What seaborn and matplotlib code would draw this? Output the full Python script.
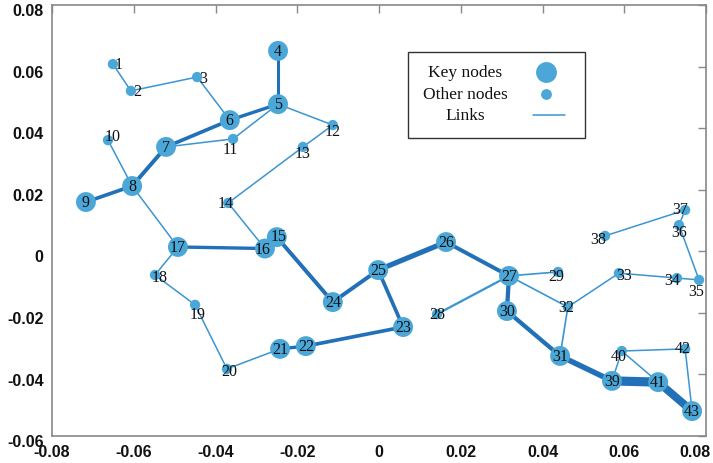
import matplotlib
matplotlib.use("Agg")
import matplotlib.pyplot as plt
from matplotlib.patches import Rectangle
from matplotlib.lines import Line2D
from matplotlib.transforms import ScaledTranslation
import numpy as np
import pandas as pd
import seaborn as sns

# ---- node coordinates ----
node_id = list(range(1, 44))
node_x = [-0.0651, -0.0607, -0.0445, -0.0247, -0.0247, -0.0365, -0.0521, -0.0604,
          -0.0717, -0.0663, -0.0357, -0.0113, -0.0186, -0.0369, -0.0250, -0.0279,
          -0.0492, -0.0548, -0.0450, -0.0372, -0.0242, -0.0179, 0.0059, -0.0113,
          -0.0002, 0.0164, 0.0318, 0.0142, 0.0438, 0.0313, 0.0443, 0.0462,
          0.0587, 0.0729, 0.0783, 0.0734, 0.0749, 0.0553, 0.0570, 0.0594,
          0.0683, 0.0749, 0.0766]
node_y = [0.0608, 0.0521, 0.0566, 0.0651, 0.0478, 0.0426, 0.0339, 0.0212,
          0.0160, 0.0361, 0.0365, 0.0410, 0.0339, 0.0157, 0.0046, 0.0009,
          0.0014, -0.0077, -0.0174, -0.0382, -0.0317, -0.0308, -0.0246, -0.0165,
          -0.0061, 0.0030, -0.0080, -0.0204, -0.0067, -0.0194, -0.0340, -0.0181,
          -0.0071, -0.0087, -0.0093, 0.0085, 0.0134, 0.0050, -0.0421, -0.0324,
          -0.0425, -0.0317, -0.0519]
key_nodes = [4, 5, 6, 7, 8, 9, 15, 16, 17, 21, 22, 23, 24, 25, 26, 27, 30, 31, 39, 41, 43]

# ---- links (source, target, strength) ----
link_src = [1, 2, 3, 4, 5, 5, 5, 6, 7, 7, 8, 8, 8, 12, 13, 14, 16, 15, 15, 17, 18, 19, 20,
            21, 22, 23, 24, 25, 26, 27, 27, 27, 27, 30, 31, 31, 32, 33, 34, 35, 36, 37,
            39, 39, 40, 40, 42, 41]
link_dst = [2, 3, 6, 5, 6, 12, 11, 7, 11, 8, 9, 10, 17, 13, 14, 16, 17, 16, 24, 18, 19, 20, 21,
            22, 23, 25, 25, 26, 27, 28, 29, 32, 30, 31, 32, 39, 33, 34, 35, 36, 37, 38,
            40, 41, 41, 42, 43, 43]
link_strength = [1, 1, 1, 2.0, 2.2, 1, 1, 2.4, 1, 2.6, 2.4, 1, 1, 1, 1, 1, 2.2, 2.0, 2.6, 1, 1, 1, 1,
                 2.2, 2.4, 2.4, 2.6, 3.4, 2.6, 1.5, 1.1, 1.1, 2.8, 2.8, 1.1, 3.6, 1, 1, 1, 1, 1, 1,
                 1, 6.0, 1, 1, 1, 5.2]

x_ticks = [-0.08, -0.06, -0.04, -0.02, 0, 0.02, 0.04, 0.06, 0.08]
x_tick_labels = ["-0.08", "-0.06", "-0.04", "-0.02", "0", "0.02", "0.04", "0.06", "0.08"]
y_ticks = [-0.06, -0.04, -0.02, 0, 0.02, 0.04, 0.06, 0.08]
y_tick_labels = ["-0.06", "-0.04", "-0.02", "0", "0.02", "0.04", "0.06", "0.08"]
legend_labels = ["Key nodes", "Other nodes", "Links"]

# ---- styling ----
NODE_COLOR = "#4aa7d7"
LINK_DARK = "#2271b8"
LINK_LIGHT = "#3b95d2"
SIZE_KEY = 205
SIZE_OTHER = 55
SERIF = ["Liberation Serif", "DejaVu Serif"]
TICK_FONT = ["Liberation Sans", "DejaVu Sans"]

# label offsets (points) for the small nodes whose numbers sit beside the dot
label_offset = {1: (4, 0), 2: (4.5, 0), 3: (4.5, -0.5), 10: (3.5, 3), 11: (-2, -7),
                12: (0, -4), 13: (0, -4.5), 14: (-1.5, 0), 18: (3.5, -1.5), 19: (1.5, -6.5),
                20: (1.5, -1.5), 29: (-1.5, -3), 32: (-1.5, 0), 33: (3.5, -1),
                34: (-3.5, -1.5), 35: (-2, -8), 36: (0, -5), 37: (-3.5, 0.5),
                38: (-5, -2), 40: (-2.5, -3.5), 42: (-1.5, 0.5), 16: (-2, -0.5),
                15: (1, 0.5)}

sns.set_theme(style="white")
plt.rcParams["font.family"] = SERIF

nodes = pd.DataFrame({"id": node_id, "x": node_x, "y": node_y})
nodes["role"] = np.where(nodes["id"].isin(key_nodes), "Key nodes", "Other nodes")
pos = nodes.set_index("id")[["x", "y"]]

fig = plt.figure(figsize=(7.13, 4.64), dpi=100)
ax = fig.add_axes([52 / 713, 1 - 437 / 464, (706 - 52) / 713, (437 - 6) / 464])

# links
for s, t, w in zip(link_src, link_dst, link_strength):
    ax.plot([pos.loc[s, "x"], pos.loc[t, "x"]], [pos.loc[s, "y"], pos.loc[t, "y"]],
            color=LINK_DARK if w >= 2 else LINK_LIGHT, lw=1.1 * w,
            solid_capstyle="butt", zorder=2)

# nodes
sns.scatterplot(data=nodes, x="x", y="y", size="role",
                sizes={"Key nodes": SIZE_KEY, "Other nodes": SIZE_OTHER},
                color=NODE_COLOR, linewidth=0, legend=False, ax=ax, zorder=3)

# node numbers
for nid, x, y in zip(node_id, node_x, node_y):
    dx, dy = label_offset.get(nid, (0, 0))
    ax.annotate(str(nid), (x, y), xytext=(dx, dy), textcoords="offset points",
                ha="center", va="center", fontsize=11.5, family=SERIF,
                color="#111111", zorder=4)

ax.set_xlim(-0.08, 0.08)
ax.set_ylim(-0.06, 0.08)
ax.set_xlabel("")
ax.set_ylabel("")
ax.set_xticks(x_ticks)
ax.set_xticklabels(x_tick_labels)
ax.set_yticks(y_ticks)
ax.set_yticklabels(y_tick_labels)
ax.tick_params(direction="in", length=5.5, width=1, color="#888888",
               top=True, right=True, labelsize=11.5, pad=6)
for lab in ax.get_xticklabels() + ax.get_yticklabels():
    lab.set_family(TICK_FONT)
    lab.set_fontweight("bold")
    lab.set_color("#111111")
# y labels sit slightly below their ticks
down = ScaledTranslation(0, -3 / 72, fig.dpi_scale_trans)
for lab in ax.get_yticklabels():
    lab.set_transform(lab.get_transform() + down)
# keep the last x label inside the figure
ax.get_xticklabels()[-1].set_horizontalalignment("right")
right_shift = ScaledTranslation(3 / 72, 0, fig.dpi_scale_trans)
ax.get_xticklabels()[-1].set_transform(ax.get_xticklabels()[-1].get_transform() + right_shift)
for sp in ax.spines.values():
    sp.set_color("#888888")
    sp.set_linewidth(1.2)

# legend box
ax.add_patch(Rectangle((0.544, 0.691), 0.271, 0.200, transform=ax.transAxes,
                       facecolor="white", edgecolor="#333333", lw=1, zorder=5))
text_y = [0.845, 0.794, 0.745]
for lab, ty in zip(legend_labels, text_y):
    ax.text(0.632, ty, lab, transform=ax.transAxes, ha="center", va="center",
            fontsize=12.5, family=SERIF, color="#111111", zorder=6)
ax.scatter([0.755], [0.845], s=SIZE_KEY * 1.1, color=NODE_COLOR, linewidth=0,
           transform=ax.transAxes, zorder=6)
ax.scatter([0.755], [0.794], s=SIZE_OTHER * 1.1, color=NODE_COLOR, linewidth=0,
           transform=ax.transAxes, zorder=6)
ax.add_line(Line2D([0.735, 0.784], [0.745, 0.745], transform=ax.transAxes,
                   color=LINK_LIGHT, lw=1.1, zorder=6))

fig.savefig("out.png", dpi=100)
